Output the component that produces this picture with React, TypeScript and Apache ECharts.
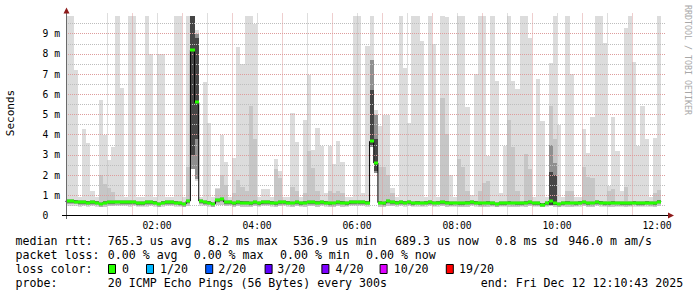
import React, { useEffect, useRef } from 'react';
import * as echarts from 'echarts';

// ---- data (ms), one value per 5-minute bin starting 00:10 ----
const MEDIAN = [
  0.70, 0.71, 0.69, 0.66, 0.66, 0.64, 0.65, 0.64, 0.58, 0.64, 0.66, 0.67,
  0.68, 0.67, 0.66, 0.65, 0.66, 0.62, 0.60, 0.65, 0.66, 0.64, 0.58, 0.64,
  0.65, 0.65, 0.64, 0.62, 0.58, 0.72, 8.2, 5.6, 0.72, 0.66, 0.64, 0.58,
  0.76, 0.80, 0.67, 0.66, 0.60, 0.66, 0.64, 0.64, 0.60, 0.66, 0.62, 0.65,
  0.66, 0.64, 0.62, 0.66, 0.65, 0.64, 0.63, 0.66, 0.62, 0.64, 0.66, 0.65,
  0.64, 0.66, 0.64, 0.62, 0.63, 0.66, 0.64, 0.62, 0.65, 0.66, 0.67, 0.66,
  0.64, 3.67, 2.6, 0.64, 0.62, 0.71, 0.66, 0.64, 0.65, 0.64, 0.66, 0.62,
  0.64, 0.63, 0.64, 0.66, 0.63, 0.64, 0.65, 0.64, 0.62, 0.63, 0.60, 0.62,
  0.64, 0.66, 0.64, 0.62, 0.63, 0.64, 0.60, 0.58, 0.62, 0.60, 0.64, 0.63,
  0.60, 0.62, 0.64, 0.65, 0.62, 0.60, 0.54, 0.60, 0.70, 0.60, 0.58, 0.62,
  0.64, 0.63, 0.62, 0.64, 0.65, 0.62, 0.63, 0.66, 0.64, 0.62, 0.62, 0.64,
  0.63, 0.60, 0.62, 0.62, 0.64, 0.62, 0.62, 0.64, 0.63, 0.62, 0.69,
];

const SMOKE_MAX = [
  9.9, 9.9, 7.2, 0.9, 4.3, 3.6, 1.2, 0.9, 5.7, 4.0, 2.73, 3.37,
  9.9, 6.3, 0.9, 9.9, 9.9, 0.9, 0.9, 9.9, 8.0, 0.9, 8.0, 8.0,
  0.9, 0.9, 9.9, 9.9, 0.9, 9.9, 9.9, 9.2, 0.9, 6.6, 4.6, 0.9,
  1.36, 3.97, 2.65, 0.9, 2.87, 8.35, 7.5, 9.9, 9.9, 9.5, 0.9, 1.3,
  1.3, 0.9, 2.8, 2.19, 0.9, 0.9, 5.09, 3.64, 0.9, 4.71, 6.97, 3.23,
  4.35, 3.43, 1.1, 3.43, 2.53, 3.67, 2.65, 0.9, 0.9, 9.9, 9.9, 1.1,
  8.38, 9.9, 5.2, 4.43, 5.0, 5.0, 1.36, 0.9, 9.9, 7.3, 4.58, 9.9,
  9.9, 8.62, 0.9, 9.9, 8.5, 0.9, 9.9, 9.85, 1.99, 0.9, 9.9, 9.9,
  5.37, 1.0, 7.0, 9.9, 9.9, 2.96, 9.9, 6.64, 1.1, 3.43, 9.9, 6.64,
  6.25, 9.9, 9.9, 8.79, 0.9, 6.74, 4.66, 0.9, 7.57, 9.9, 4.47, 0.9,
  9.9, 7.0, 0.9, 0.9, 4.27, 3.1, 4.88, 9.9, 9.9, 8.52, 1.45, 4.88,
  3.19, 1.2, 9.3, 9.9, 7.6, 3.44, 5.4, 3.77, 0.9, 3.84, 9.9,
];

const SMOKE_MID = [
  0, 0, 0, 0, 0, 0, 0, 0, 2.0, 1.55, 1.35, 1.15,
  0, 0, 0, 0, 0, 0, 0, 0, 0, 0, 0, 0,
  0, 0, 0, 0, 0, 2.4, 0, 0, 0, 0, 0, 0,
  1.3, 2.0, 1.5, 0, 1.1, 1.74, 1.4, 1.2, 5.4, 3.77, 0, 0,
  0, 0, 2.29, 1.86, 0, 0, 1.4, 1.2, 0, 1.1, 3.2, 2.35,
  1.2, 0, 0, 1.2, 1.1, 1.2, 1.1, 0, 0, 0, 0, 0,
  0, 0, 0, 2.4, 2.4, 2.0, 1.1, 0, 0, 0, 0, 0,
  0, 0, 0, 0, 0, 0, 5.84, 4.05, 0, 0, 2.8, 2.4,
  1.2, 0, 0, 1.2, 1.6, 1.7, 0, 0, 0, 0, 4.71, 3.4,
  1.2, 0, 3.05, 2.3, 0, 0, 0, 0, 5.4, 3.8, 0, 0,
  1.2, 1.2, 0, 0, 2.4, 1.9, 1.85, 0, 0, 0, 1.2, 1.3,
  0, 0, 1.4, 0, 0, 0, 0, 0, 0, 1.1, 1.25,
];

const SMOKE_MIN = [
  0.45, 0.46, 0.45, 0.44, 0.45, 0.44, 0.45, 0.44, 0.42, 0.44, 0.45, 0.46,
  0.46, 0.45, 0.45, 0.44, 0.45, 0.43, 0.42, 0.44, 0.45, 0.44, 0.42, 0.44,
  0.45, 0.45, 0.44, 0.43, 0.42, 0.48, 2.3, 1.7, 0.48, 0.45, 0.44, 0.42,
  0.5, 0.52, 0.46, 0.45, 0.42, 0.45, 0.44, 0.44, 0.42, 0.45, 0.43, 0.45,
  0.45, 0.44, 0.43, 0.45, 0.45, 0.44, 0.44, 0.45, 0.43, 0.44, 0.45, 0.45,
  0.44, 0.45, 0.44, 0.43, 0.44, 0.45, 0.44, 0.43, 0.45, 0.45, 0.46, 0.45,
  0.44, 3.4, 2.1, 0.44, 0.43, 0.48, 0.45, 0.44, 0.45, 0.44, 0.45, 0.43,
  0.44, 0.44, 0.44, 0.45, 0.44, 0.44, 0.45, 0.44, 0.43, 0.44, 0.42, 0.43,
  0.44, 0.45, 0.44, 0.43, 0.44, 0.44, 0.42, 0.41, 0.43, 0.42, 0.44, 0.44,
  0.42, 0.43, 0.44, 0.45, 0.43, 0.42, 0.40, 0.42, 0.48, 0.42, 0.41, 0.43,
  0.44, 0.44, 0.43, 0.44, 0.45, 0.43, 0.44, 0.45, 0.44, 0.43, 0.43, 0.44,
  0.44, 0.42, 0.43, 0.43, 0.44, 0.43, 0.43, 0.44, 0.44, 0.43, 0.47,
];

// dense inner smoke of the slow bins
const CORE_BINS = [30, 31, 73, 74, 116, 117];
const CORE_LOW = [2.3, 1.8, 3.4, 2.1, 0.5, 0.5];
const CORE_HIGH = [9.9, 9.0, 7.7, 5.0, 3.5, 2.6];
const DARK_LOW = [3.0, 3.8, 3.5, 2.2, 0.5, 0.5];
const DARK_HIGH = [9.9, 8.8, 6.2, 3.8, 2.15, 2.0];

const HOUR_LABELS = [2, 4, 6, 8, 10, 12];
const Y_LABELS = [0, 1, 2, 3, 4, 5, 6, 7, 8, 9];

const LOSS_LABELS = ['0', '1/20', '2/20', '3/20', '4/20', '10/20', '19/20'];
const LOSS_COLORS = ['#26ff00', '#00b8ff', '#0059ff', '#5e00ff', '#7e00ff', '#dd00ff', '#ff0000'];

const ROW1 = ['median rtt:', '765.3 us avg', '8.2 ms max', '536.9 us min', '689.3 us now', '0.8 ms sd', '946.0 m am/s'];
const ROW2 = ['packet loss:', '0.00 % avg', '0.00 % max', '0.00 % min', '0.00 % now'];
const ROW3_HEAD = 'loss color:';
const ROW4 = ['probe:', '20 ICMP Echo Pings (56 Bytes) every 300s', 'end: Fri Dec 12 12:10:43 2025'];

// ---- layout ----
const STEP_MIN = 5;
const FIRST_BIN_MIN = 10;
const binStart = (k: number) => (FIRST_BIN_MIN + STEP_MIN * k) / 60;
const X_MIN = 10 / 60 + 43 / 3600;
const X_MAX = X_MIN + 12;
const HALF_HOURS: number[] = [];
for (let h = 0.5; h <= 12; h += 0.5) HALF_HOURS.push(h);

const ROW1_X = [15.6, 107.8, 208, 293, 395, 495.6, 568.2];
const ROW2_X = [15.6, 107.8, 193.7, 280, 366];
const BOX_X = [108, 146, 205.2, 264.6, 321.4, 379.6, 445.8];
const LOSS_TEXT_X = [122, 160, 218.3, 277.3, 335.5, 393.7, 459];
const ROW4_X = [15.6, 107.8, 480.8];
const ROW_Y = [241, 255.3, 269, 283];

const MONO = 'DejaVu Sans Mono';
const LEG_FONT = `11.6px "${MONO}"`;
const MAJOR = '#de9c9c';
const MINOR = '#bdbdbd';

function txt(x: number, y: number, text: string, extra: any = {}) {
  return {
    type: 'text',
    x,
    y,
    z: 20,
    style: {
      text,
      font: LEG_FONT,
      fill: '#000',
      align: 'left',
      verticalAlign: 'middle',
      textAlign: 'left',
      textVerticalAlign: 'middle',
      ...extra,
    },
  };
}

export default function App() {
  const ref = useRef<HTMLDivElement>(null);

  useEffect(() => {
    const chart = echarts.init(ref.current!, null, { renderer: 'svg' });

    const coreMap: Record<number, number> = {};
    CORE_BINS.forEach((b, i) => (coreMap[b] = i));

    const smokeData = SMOKE_MAX.map((mx, k) => {
      const ci = coreMap[k];
      return [
        binStart(k),
        binStart(k + 1),
        SMOKE_MIN[k],
        SMOKE_MID[k],
        mx,
        MEDIAN[k],
        ci === undefined ? 0 : CORE_LOW[ci],
        ci === undefined ? 0 : CORE_HIGH[ci],
        ci === undefined ? 0 : DARK_LOW[ci],
        ci === undefined ? 0 : DARK_HIGH[ci],
      ];
    });

    const medianLine = MEDIAN.map((m, k) => [binStart(k), m]);
    medianLine.push([binStart(MEDIAN.length), MEDIAN[MEDIAN.length - 1]]);

    const medianSeg = MEDIAN.map((m, k) => [binStart(k), binStart(k + 1), m]);

    const clipRect = (params: any, r: any) => {
      const cs = params.coordSys;
      return echarts.graphic.clipRectByRect(r, { x: cs.x, y: cs.y, width: cs.width, height: cs.height });
    };

    const smokeRender = (params: any, api: any) => {
      const x0 = api.value(0);
      const x1 = api.value(1);
      const lo = api.value(2);
      const mid = api.value(3);
      const hi = api.value(4);
      const med = api.value(5);
      const cLo = api.value(6);
      const cHi = api.value(7);
      const dLo = api.value(8);
      const dHi = api.value(9);
      const children: any[] = [];
      const rect = (a: number, b: number, fill: string) => {
        const p0 = api.coord([x0, a]);
        const p1 = api.coord([x1, b]);
        const left = Math.round(p0[0]);
        const right = Math.round(p1[0]);
        const top = Math.round(p1[1]);
        const bottom = Math.round(p0[1]);
        if (right <= left || bottom <= top) return;
        const shape = clipRect(params, { x: left, y: top, width: right - left, height: bottom - top });
        if (shape) children.push({ type: 'rect', shape, style: { fill } });
      };
      rect(lo, hi, '#dcdcdc');
      if (mid > lo) rect(lo, mid, '#c6c6c6');
      if (cHi > cLo) rect(cLo, cHi, '#8f8f8f');
      if (dHi > dLo) rect(dLo, dHi, '#454545');
      if (!(cHi > cLo)) {
        rect(med - 0.14, Math.min(hi, med + 0.1), '#ababab');
        rect(med - 0.08, med + 0.06, '#6f6f6f');
      }
      return { type: 'group', children };
    };

    const greenRender = (params: any, api: any) => {
      const p0 = api.coord([api.value(0), api.value(2)]);
      const p1 = api.coord([api.value(1), api.value(2)]);
      const left = Math.round(p0[0]);
      const right = Math.round(p1[0]);
      const yc = Math.round(p0[1]);
      const shape = clipRect(params, { x: left, y: yc - 1.5, width: right - left, height: 3 });
      if (!shape) return null;
      return { type: 'rect', shape, style: { fill: LOSS_COLORS[0] } };
    };

    const graphics: any[] = [];
    ROW1.forEach((t, i) => graphics.push(txt(ROW1_X[i], ROW_Y[0], t)));
    ROW2.forEach((t, i) => graphics.push(txt(ROW2_X[i], ROW_Y[1], t)));
    graphics.push(txt(15.6, ROW_Y[2], ROW3_HEAD));
    LOSS_LABELS.forEach((t, i) => {
      graphics.push({
        type: 'rect',
        z: 20,
        shape: { x: BOX_X[i] + 0.5, y: ROW_Y[2] - 4.5, width: 7, height: 9 },
        style: { fill: LOSS_COLORS[i], stroke: '#000', lineWidth: 1 },
      });
      graphics.push(txt(LOSS_TEXT_X[i], ROW_Y[2], t));
    });
    ROW4.forEach((t, i) => graphics.push(txt(ROW4_X[i], ROW_Y[3], t)));

    // axis title and watermark
    graphics.push({
      type: 'text',
      x: 10.5,
      y: 113,
      rotation: Math.PI / 2,
      z: 20,
      style: {
        text: 'Seconds',
        font: `11px "${MONO}"`,
        fill: '#000',
        align: 'center',
        verticalAlign: 'middle',
        textAlign: 'center',
        textVerticalAlign: 'middle',
      },
    });
    graphics.push({
      type: 'text',
      x: 688,
      y: 60,
      rotation: -Math.PI / 2,
      z: 20,
      style: {
        text: 'RRDTOOL / TOBI OETIKER',
        font: `8.3px "${MONO}"`,
        fill: '#a8a8a8',
        align: 'center',
        verticalAlign: 'middle',
        textAlign: 'center',
        textVerticalAlign: 'middle',
      },
    });

    // axis lines and arrows
    graphics.push({
      type: 'line',
      z: 15,
      shape: { x1: 66.5, y1: 219, x2: 66.5, y2: 12 },
      style: { stroke: '#6a6a6a', lineWidth: 1 },
    });
    graphics.push({
      type: 'line',
      z: 15,
      shape: { x1: 62, y1: 215.5, x2: 669, y2: 215.5 },
      style: { stroke: '#000', lineWidth: 1 },
    });
    graphics.push({
      type: 'polygon',
      z: 16,
      shape: { points: [[63.5, 13.5], [66.5, 7.5], [69.5, 13.5]] },
      style: { fill: '#8e1b1b' },
    });
    graphics.push({
      type: 'polygon',
      z: 16,
      shape: { points: [[668, 212.5], [674, 215.5], [668, 218.5]] },
      style: { fill: '#8e1b1b' },
    });

    const option: any = {
      animation: false,
      backgroundColor: '#ffffff',
      grid: { left: 66, top: 13.5, width: 600, height: 202 },
      xAxis: {
        type: 'value',
        min: X_MIN,
        max: X_MAX,
        z: 2,
        axisLine: { show: false },
        axisTick: { show: false, customValues: HALF_HOURS },
        splitLine: {
          show: true,
          showMinLine: false,
          showMaxLine: false,
          lineStyle: { color: [MINOR, MAJOR], type: [1, 1], width: 1 },
        },
        axisLabel: {
          customValues: HOUR_LABELS,
          margin: 5,
          color: '#000',
          fontFamily: MONO,
          fontSize: 9.7,
          formatter: (v: number) => `${String(Math.round(v)).padStart(2, '0')}:00`,
        },
      },
      yAxis: {
        type: 'value',
        min: 0,
        max: 10,
        interval: 0.5,
        z: 2,
        axisLine: { show: false },
        axisTick: { show: false },
        splitLine: {
          show: true,
          showMaxLine: false,
          lineStyle: { color: [MAJOR, MINOR], type: [1, 1], width: 1 },
        },
        axisLabel: {
          align: 'left',
          margin: 23.5,
          color: '#000',
          fontFamily: MONO,
          fontSize: 9.7,
          formatter: (v: number) => {
            const n = Math.round(v * 10) / 10;
            if (!Y_LABELS.includes(n)) return '';
            return n === 0 ? '0' : `${n} m`;
          },
        },
      },
      series: [
        {
          type: 'custom',
          z: 1,
          renderItem: smokeRender,
          encode: { x: [0, 1], y: [2, 4] },
          data: smokeData,
          silent: true,
        },
        {
          type: 'line',
          z: 3,
          step: 'end',
          symbol: 'none',
          clip: true,
          data: medianLine,
          lineStyle: { color: '#000', width: 1 },
          silent: true,
        },
        {
          type: 'custom',
          z: 4,
          renderItem: greenRender,
          encode: { x: [0, 1], y: 2 },
          data: medianSeg,
          silent: true,
        },
      ],
      graphic: graphics,
    };

    chart.setOption(option);
    return () => chart.dispose();
  }, []);

  return (
    <div
      ref={ref}
      style={{ position: 'fixed', left: 0, top: 0, width: 697, height: 297, background: '#fff' }}
    />
  );
}
